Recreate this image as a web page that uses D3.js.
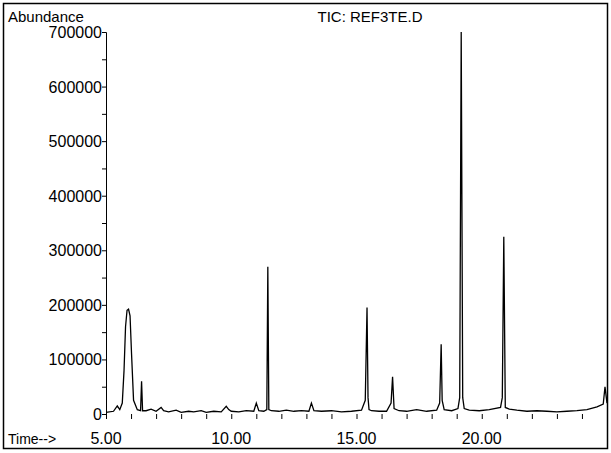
<!DOCTYPE html>
<html><head><meta charset="utf-8">
<script src="https://cdn.jsdelivr.net/npm/d3@7"></script>
<style>body{margin:0;background:#fff}text{font-family:"Liberation Sans",Arial,sans-serif}</style>
</head><body><div id="chart"></div>
<script>
// retention times (min) and abundance
var times = [5.0,5.3,5.45,5.55,5.65,5.72,5.78,5.84,5.9,5.96,6.02,6.1,6.25,6.38,6.42,6.46,6.6,6.8,7.0,7.2,7.3,7.5,7.8,8.0,8.3,8.5,8.8,9.0,9.3,9.6,9.8,9.9,10.0,10.3,10.6,10.9,11.0,11.1,11.3,11.42,11.46,11.5,11.6,11.9,12.2,12.5,12.8,13.1,13.2,13.3,13.6,14.0,14.4,14.8,15.2,15.35,15.42,15.46,15.5,15.6,15.9,16.2,16.38,16.44,16.5,16.7,17.0,17.4,17.8,18.2,18.32,18.38,18.42,18.5,18.8,19.05,19.12,19.18,19.24,19.3,19.5,19.9,20.3,20.75,20.82,20.88,20.94,21.1,21.4,21.8,22.2,22.6,23.0,23.4,23.8,24.2,24.6,24.85,24.92,25.0];
var abundance = [3000,5000,15000,8000,20000,80000,160000,190000,192000,180000,110000,25000,8000,6000,60000,6000,6000,9000,5000,12000,6000,4000,7000,3000,5000,4000,6000,3000,5000,4000,14000,8000,5000,4000,6000,5000,20000,6000,5000,8000,270000,8000,6000,5000,7000,5000,6000,5000,20000,6000,5000,6000,4000,5000,7000,25000,195000,30000,8000,6000,5000,5000,20000,68000,10000,6000,5000,8000,5000,7000,20000,128000,25000,8000,6000,10000,30000,700000,30000,10000,7000,6000,8000,12000,30000,325000,12000,9000,7000,5000,6000,5000,4000,5000,6000,8000,13000,18000,50000,20000];
var xTicks = [5, 10, 15, 20];
var yTicks = [0, 100000, 200000, 300000, 400000, 500000, 600000, 700000];

var W = 611, H = 453;
var svg = d3.select("#chart").append("svg").attr("width", W).attr("height", H);
svg.append("rect").attr("x", 3.5).attr("y", 3.5).attr("width", 604).attr("height", 445)
   .attr("fill", "none").attr("stroke", "#000").attr("stroke-width", 1.5);

var x = d3.scaleLinear().domain([5, 25]).range([106, 607]);
var y = d3.scaleLinear().domain([0, 700000]).range([414, 32]);

var xAxis = svg.append("g").attr("transform", "translate(0,414)")
   .call(d3.axisBottom(x).tickValues(d3.range(5, 25, 1)).tickSize(5).tickFormat(""));
xAxis.select(".domain").remove();
var yAxis = svg.append("g").attr("transform", "translate(106,0)")
   .call(d3.axisLeft(y).tickValues(d3.range(0, 700001, 50000)).tickSize(4).tickFormat(""));
svg.selectAll(".tick line").attr("stroke", "#000");

svg.selectAll("text.ylab").data(yTicks).enter().append("text")
   .attr("x", 102).attr("y", function(d){ return y(d) + 6; })
   .attr("text-anchor", "end").attr("font-size", 16).text(function(d){ return d; });
svg.selectAll("text.xlab").data(xTicks).enter().append("text")
   .attr("x", function(d){ return x(d); }).attr("y", 444)
   .attr("text-anchor", "middle").attr("font-size", 16).text(function(d){ return d.toFixed(2); });

svg.append("text").attr("x", 8).attr("y", 22).attr("font-size", 15).text("Abundance");
svg.append("text").attr("x", 8).attr("y", 444).attr("font-size", 14).text("Time-->");
svg.append("text").attr("x", 370).attr("y", 22).attr("font-size", 15).attr("text-anchor", "middle").text("TIC: REF3TE.D");

var line = d3.line().x(function(d, i){ return x(times[i]); }).y(function(d){ return y(d); });
svg.append("path").datum(abundance).attr("d", line)
   .attr("fill", "none").attr("stroke", "#000").attr("stroke-width", 1.3);
</script></body></html>
